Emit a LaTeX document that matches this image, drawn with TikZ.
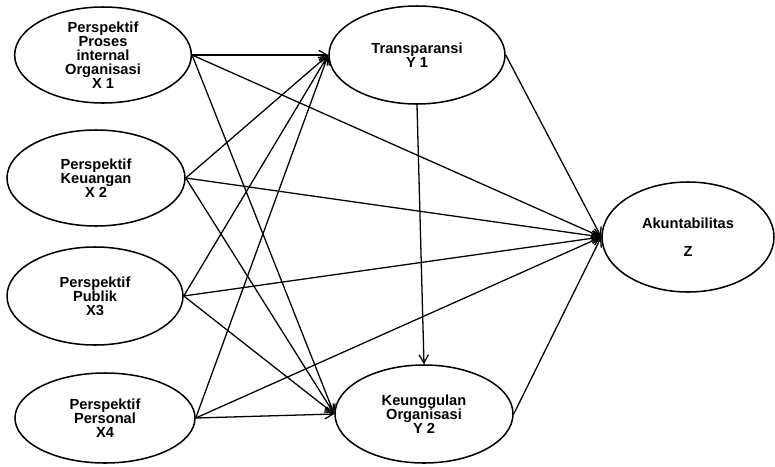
\documentclass[tikz,border=0pt]{standalone}
\usepackage{fontspec}
\setmainfont{Liberation Sans}
\usetikzlibrary{shapes.geometric,arrows.meta}
\begin{document}
\begin{tikzpicture}[x=0.03cm,y=-0.03cm,
  var/.style={ellipse,draw,line width=1.3pt,inner sep=0pt,align=center,
    font=\fontsize{12.5}{12}\selectfont\bfseries},
  link/.style={line width=1.1pt,-{Straight Barb[length=7pt,width=8pt]}}]
\useasboundingbox (0,0) rectangle (775,466);
\node[var,minimum width=5.3cm,minimum height=2.88cm] (x1) at (103,55) {Perspektif\\Proses\\internal\\Organisasi\\X 1};
\node[var,minimum width=5.34cm,minimum height=2.88cm] (x2) at (96,178) {Perspektif\\Keuangan\\X 2};
\node[var,minimum width=5.28cm,minimum height=2.94cm] (x3) at (95,296) {Perspektif\\Publik\\X3};
\node[var,minimum width=5.4cm,minimum height=2.7cm] (x4) at (105,418) {Perspektif\\Personal\\X4};
\node[var,minimum width=5.28cm,minimum height=2.94cm] (y1) at (417,55) {Transparansi\\Y 1};
\node[var,minimum width=5.34cm,minimum height=2.94cm] (y2) at (424,414) {Keunggulan\\Organisasi\\Y 2};
\node[var,minimum width=5.16cm,minimum height=3.3cm] (z) at (688,237) {Akuntabilitas\\[12pt]Z};
\foreach \s in {x1,x2,x3,x4}{
  \draw[link] (\s.east) -- (y1.west);
  \draw[link] (\s.east) -- (y2.west);
  \draw[link] (\s.east) -- (z.west);
}
\draw[link] (y1.east) -- (z.west);
\draw[link] (y2.east) -- (z.west);
\draw[link] (y1.south) -- (y2.north);
\end{tikzpicture}
\end{document}
